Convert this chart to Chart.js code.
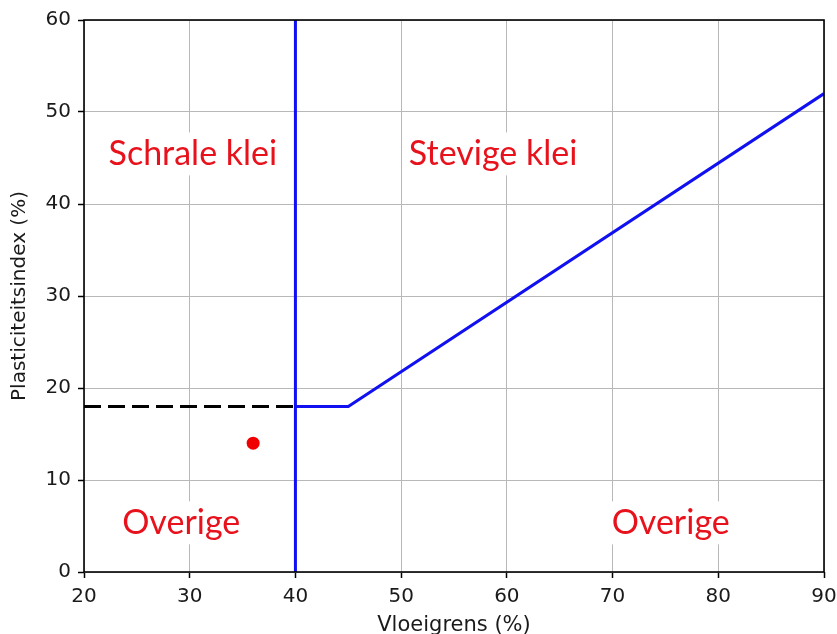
<!DOCTYPE html>
<html>
<head>
<meta charset="utf-8">
<script src="https://cdn.jsdelivr.net/npm/chart.js@4"></script>
<style>
html,body{margin:0;padding:0;background:#fff;}
#wrap{width:837px;height:634px;}
</style>
</head>
<body>
<div id="wrap"><canvas id="c" width="837" height="634"></canvas></div>
<script>
// ---- data ----
const verticalX = [40, 40];
const verticalY = [0, 60];
const aLineX = [40, 45, 90];
const aLineY = [18, 18, 52];
const dashedX = [20, 40];
const dashedY = [18, 18];
const sampleX = [36];
const sampleY = [14];
const regionLabels = ['Schrale klei', 'Stevige klei', 'Overige', 'Overige'];
const regionX = [30.3, 58.7, 29.2, 75.5];
const regionY = [45.5, 45.5, 5.4, 5.4];
const xTicks = [20, 30, 40, 50, 60, 70, 80, 90];
const yTicks = [0, 10, 20, 30, 40, 50, 60];
const xTitle = 'Vloeigrens (%)';
const yTitle = 'Plasticiteitsindex (%)';

const pts = (xs, ys) => xs.map((x, i) => ({x: x, y: ys[i]}));

const frame = {
  id: 'frame',
  afterDatasetsDraw(chart) {
    const {ctx, scales} = chart;
    ctx.save();
    ctx.font = '34px Lato, "Open Sans", sans-serif';
    ctx.textAlign = 'center';
    ctx.textBaseline = 'middle';
    regionLabels.forEach((t, i) => {
      const px = scales.x.getPixelForValue(regionX[i]);
      const py = scales.y.getPixelForValue(regionY[i]);
      const w = ctx.measureText(t).width;
      ctx.fillStyle = '#ffffff';
      ctx.fillRect(px - w / 2 - 6, py - 21, w + 12, 43);
      ctx.fillStyle = '#e8121c';
      ctx.fillText(t, px, py + 1);
    });
    ctx.restore();
  },
  afterDraw(chart) {
    const {ctx, chartArea: a} = chart;
    ctx.save();
    ctx.strokeStyle = '#000';
    ctx.lineWidth = 1.6;
    ctx.strokeRect(a.left, a.top, a.right - a.left, a.bottom - a.top);
    ctx.restore();
  }
};

new Chart(document.getElementById('c'), {
  type: 'scatter',
  data: {
    datasets: [
      {data: pts(dashedX, dashedY), showLine: true, borderColor: '#000', borderWidth: 3, borderDash: [17, 7], pointRadius: 0, order: 2},
      {data: pts(verticalX, verticalY), showLine: true, borderColor: '#1010f0', borderWidth: 3, pointRadius: 0, order: 1},
      {data: pts(aLineX, aLineY), showLine: true, borderColor: '#1010f0', borderWidth: 3, pointRadius: 0, order: 1},
      {data: pts(sampleX, sampleY), showLine: false, backgroundColor: '#f00000', borderColor: '#f00000', pointRadius: 6.5, borderWidth: 0, order: 0}
    ]
  },
  options: {
    responsive: false,
    animation: false,
    layout: {padding: {left: 0, top: 20, right: 13, bottom: 0}},
    plugins: {legend: {display: false}, tooltip: {enabled: false}},
    scales: {
      x: {
        type: 'linear', min: 20, max: 90,
        afterBuildTicks: s => { s.ticks = xTicks.map(v => ({value: v})); },
        afterFit: s => { s.height = 62; s.paddingLeft = 0; s.paddingRight = 0; },
        grid: {color: '#b8b8b8', lineWidth: 1, tickColor: '#000', tickLength: 6, tickWidth: 1.5},
        border: {display: false},
        ticks: {color: '#1a1a1a', font: {family: '"DejaVu Sans"', size: 20}, padding: 7, maxRotation: 0},
        title: {display: true, text: xTitle, color: '#1a1a1a', font: {family: '"DejaVu Sans"', size: 21, lineHeight: 0.8}, padding: {top: 0, bottom: 0}}
      },
      y: {
        type: 'linear', min: 0, max: 60,
        afterBuildTicks: s => { s.ticks = yTicks.map(v => ({value: v})); },
        afterFit: s => { s.width = 84; s.paddingTop = 0; s.paddingBottom = 0; },
        grid: {color: '#b8b8b8', lineWidth: 1, tickColor: '#000', tickLength: 6, tickWidth: 1.5},
        border: {display: false},
        ticks: {color: '#1a1a1a', font: {family: '"DejaVu Sans"', size: 20}, padding: 7},
        title: {display: true, text: yTitle, color: '#1a1a1a', font: {family: '"DejaVu Sans"', size: 20, lineHeight: 1.2}, padding: {top: 8, bottom: 0}}
      }
    }
  },
  plugins: [frame]
});
</script>
</body>
</html>
